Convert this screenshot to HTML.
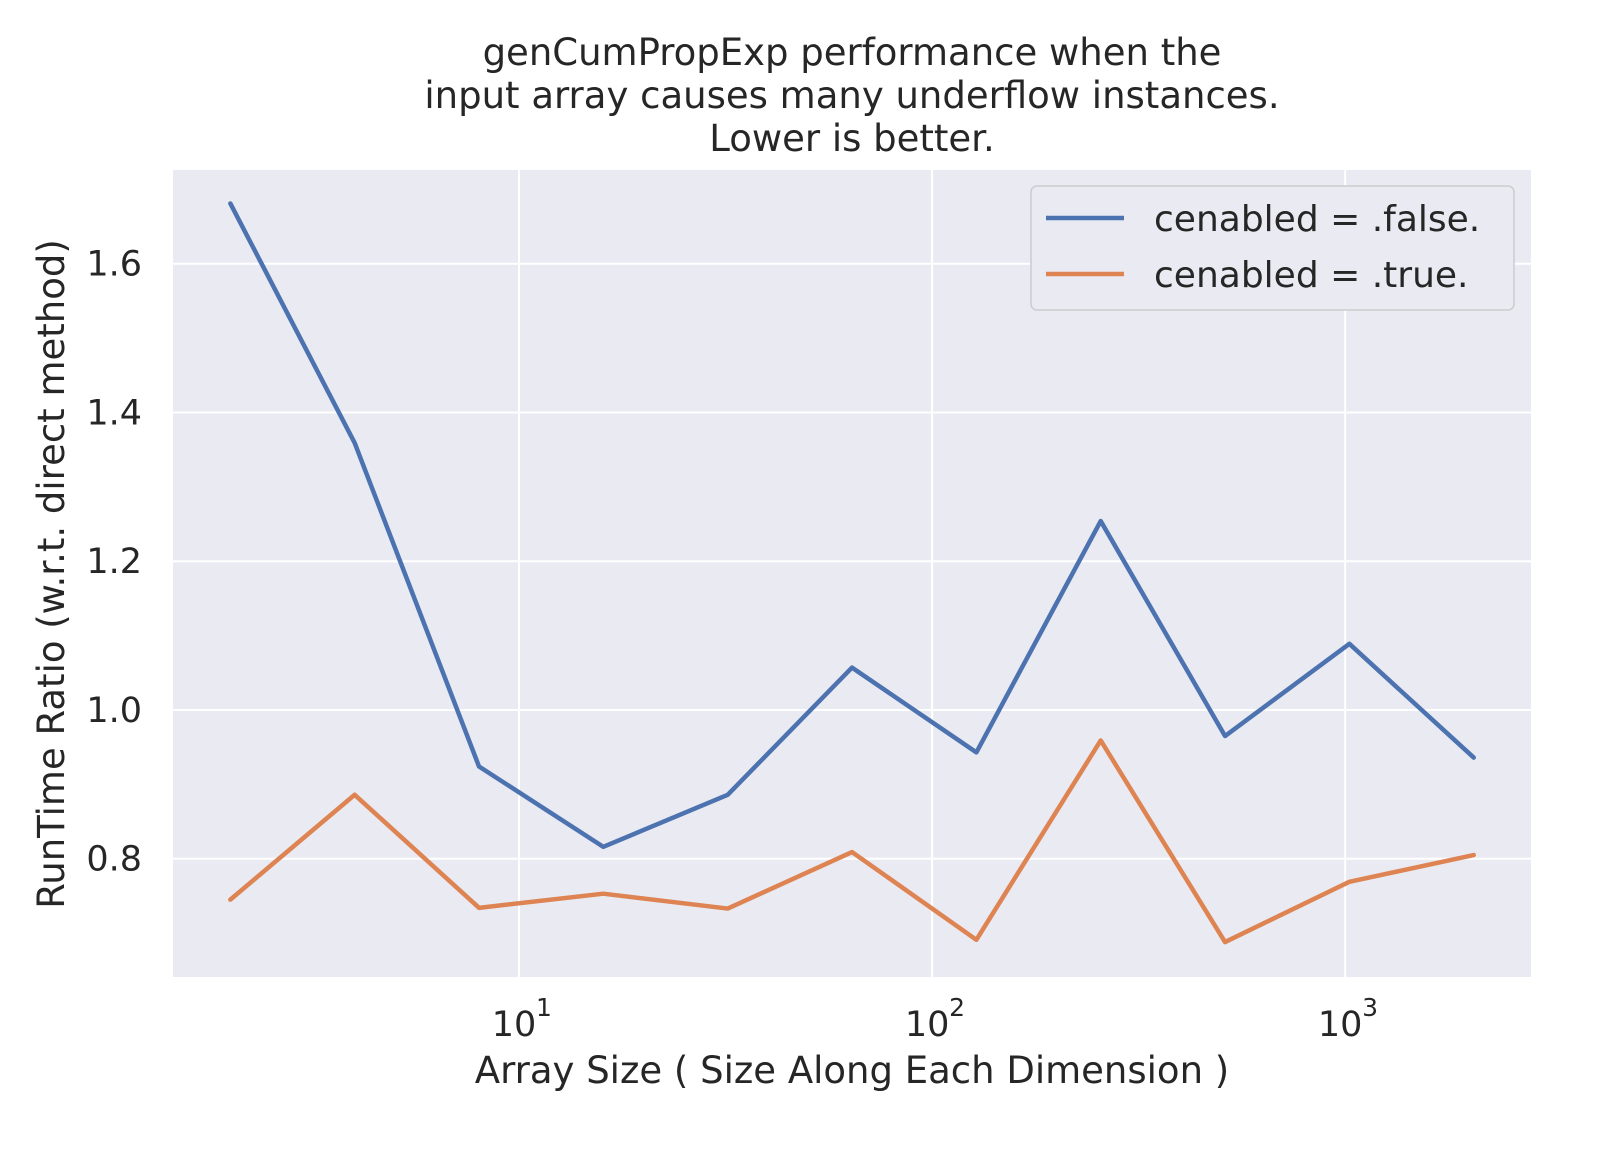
<!DOCTYPE html>
<html><head><meta charset="utf-8"><style>
body{margin:0;background:#fff}
svg text{font-family:"DejaVu Sans","Liberation Sans",sans-serif;fill:#262626}
</style></head><body>
<svg id="chart" width="1600" height="1150" viewBox="0 0 1600 1150" xmlns="http://www.w3.org/2000/svg">
<rect x="0" y="0" width="1600" height="1150" fill="#fff"/>
<rect x="173" y="170" width="1358" height="807" fill="#EAEAF2"/>
<g id="grid"></g>
<g id="series"></g>
<g id="ticks"></g>
<text x="852" y="65" font-size="37" text-anchor="middle">genCumPropExp performance when the</text>
<text x="852" y="108" font-size="37" text-anchor="middle">input array causes many underflow instances.</text>
<text x="852" y="151" font-size="37" text-anchor="middle">Lower is better.</text>
<text x="852" y="1083" font-size="37" text-anchor="middle">Array Size ( Size Along Each Dimension )</text>
<text transform="translate(64,574) rotate(-90)" font-size="37" text-anchor="middle">RunTime Ratio (w.r.t. direct method)</text>
<g>
<rect x="1031" y="186" width="483" height="124" rx="6" fill="#EAEAF2" stroke="#ccc" stroke-width="1.5"/>
<line x1="1046" y1="218" x2="1124" y2="218" stroke="#4C72B0" stroke-width="4.5"/>
<text x="1154" y="231" font-size="36">cenabled = .false.</text>
<line x1="1046" y1="274" x2="1124" y2="274" stroke="#DD8452" stroke-width="4.5"/>
<text x="1154" y="287" font-size="36">cenabled = .true.</text>
</g>
</svg>
<script>
const sizes=[2,4,8,16,32,64,128,256,512,1024,2048];
const falseVals=[1.681,1.359,0.924,0.816,0.886,1.057,0.943,1.254,0.965,1.089,0.936];
const trueVals=[0.745,0.886,0.734,0.753,0.733,0.809,0.691,0.959,0.688,0.769,0.805];
const yTicks=[0.8,1.0,1.2,1.4,1.6];
const yTickLabels=["0.8","1.0","1.2","1.4","1.6"];
const xTickExps=[1,2,3];

const L=173,R=1531,T=170,B=977;
const xMin=0.1622,xMax=3.450,yMin=0.641,yMax=1.726;
const xs=v=>L+(Math.log10(v)-xMin)/(xMax-xMin)*(R-L);
const ys=v=>B-(v-yMin)/(yMax-yMin)*(B-T);
const NS="http://www.w3.org/2000/svg";
const grid=document.getElementById('grid'),ticks=document.getElementById('ticks'),series=document.getElementById('series');
function mk(tag,attrs,parent){const e=document.createElementNS(NS,tag);for(const k in attrs)e.setAttribute(k,attrs[k]);parent.appendChild(e);return e;}
yTicks.forEach((v,i)=>{
  const g=mk('line',{x1:L,x2:R,y1:ys(v),y2:ys(v),stroke:'#fff','stroke-width':2},grid);
  
  
  const t=mk('text',{x:L-31,y:ys(v)+12,'font-size':35,'text-anchor':'end'},ticks);
  t.textContent=yTickLabels[i];
  
  
});
xTickExps.forEach(e=>{
  const x=xs(Math.pow(10,e));
  const g=mk('line',{x1:x,x2:x,y1:T,y2:B,stroke:'#fff','stroke-width':2},grid);
  
  
  const t=mk('text',{x:x-5,y:1036,'font-size':35,'text-anchor':'middle'},ticks);
  
  
  t.textContent='10';
  const s=mk('text',{x:x+17,y:1016,'font-size':25,'text-anchor':'start'},ticks);
  s.textContent=String(e);
  
  
});
function line(vals,color,name){
  const p=mk('polyline',{points:sizes.map((s,i)=>xs(s)+','+ys(vals[i])).join(' '),fill:'none',stroke:color,'stroke-width':4.5,'stroke-linejoin':'round','stroke-linecap':'round'},series);
  
  
}
line(falseVals,'#4C72B0','series-cenabled-false');
line(trueVals,'#DD8452','series-cenabled-true');
</script>
</body></html>
